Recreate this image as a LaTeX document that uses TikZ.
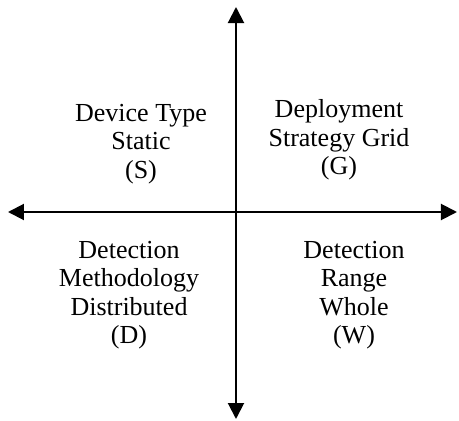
\documentclass[tikz,border=0pt]{standalone}
\usepackage{fontspec}
\setmainfont{Liberation Serif}
\usepackage{tikz}
\usetikzlibrary{arrows.meta,positioning}

\begin{document}
\begin{tikzpicture}[
  x=1pt, y=1pt,
  axis/.style={line width=2pt, {Triangle[length=16pt,width=16pt]}-{Triangle[length=16pt,width=16pt]}},
  every node/.style={align=center, inner sep=0pt,
                     font=\fontsize{26}{28.5}\selectfont}
]
\useasboundingbox (-236,-209) rectangle (223,212);
\coordinate (west)  at (-228,0);
\coordinate (east)  at (221,0);
\coordinate (north) at (0,205);
\coordinate (south) at (0,-207);
\draw[axis] (west) -- (east);
\draw[axis] (south) -- (north);
\node (static) at (-95,68) {Device Type\\Static\\(S)};
\node (grid) at (103,72) {Deployment\\Strategy Grid\\(G)};
\node (distributed) at (-107,-83) {Detection\\Methodology\\Distributed\\(D)};
\node (whole) at (118,-83) {Detection\\Range\\Whole\\(W)};
\end{tikzpicture}
\end{document}
